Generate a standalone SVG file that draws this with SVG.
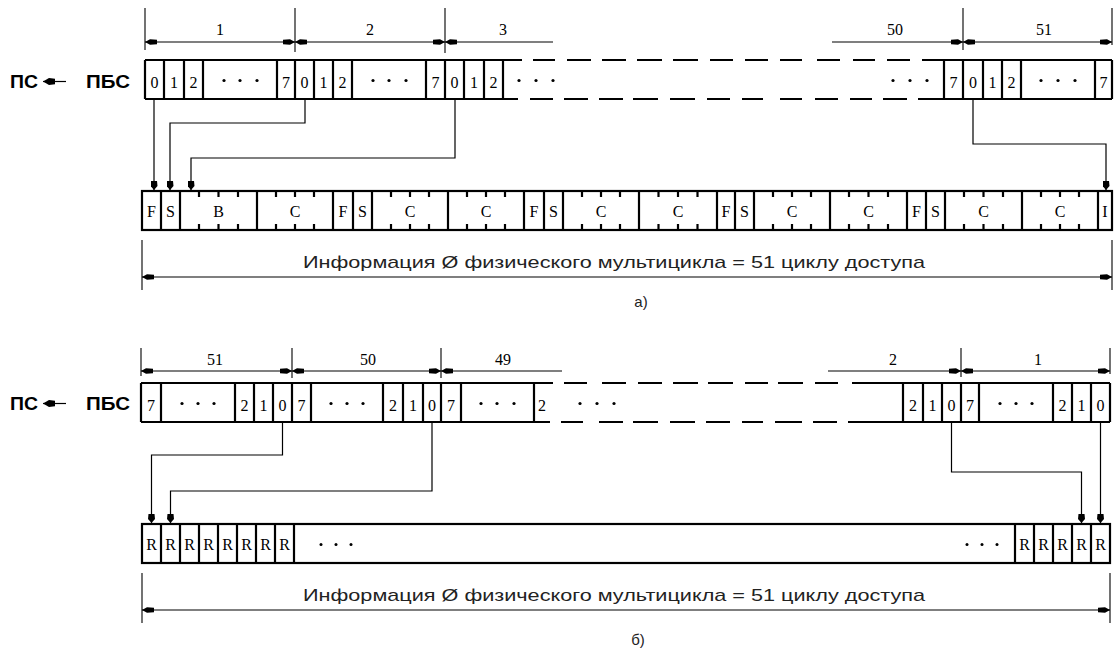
<svg xmlns="http://www.w3.org/2000/svg" width="1115" height="657" viewBox="0 0 1115 657">
<style>
.bg{fill:#fff}
.box{fill:none;stroke:#000;stroke-width:2.2}
.thin{fill:none;stroke:#000;stroke-width:1.2}
.dim{fill:none;stroke:#000;stroke-width:1.1}
.cell{font-family:"Liberation Serif",serif;font-size:16px;fill:#000;text-anchor:middle}
.lbl{font-family:"Liberation Serif",serif;font-size:16px;fill:#000;text-anchor:middle}
.ps{font-family:"Liberation Sans",Arial,sans-serif;font-size:19px;font-weight:bold;fill:#000}
.cap{font-family:"Liberation Sans",Arial,sans-serif;font-size:17px;fill:#222}
.sub{font-family:"Liberation Sans",Arial,sans-serif;font-size:15px;fill:#222;text-anchor:middle}
.dot{fill:#000}
</style>
<defs>
<marker id="da" viewBox="0 0 12 6" refX="12" refY="3" markerWidth="12" markerHeight="6" markerUnits="userSpaceOnUse" orient="auto-start-reverse">
<path d="M12 3 L7 0.3 L0 0.8 L0 5.2 L7 5.7 Z" fill="#000"/>
</marker>
<marker id="pa" viewBox="0 0 12 8" refX="12" refY="4" markerWidth="12" markerHeight="8" markerUnits="userSpaceOnUse" orient="auto">
<path d="M12 4 L6 0.5 L0 1.2 L0 6.8 L6 7.5 Z" fill="#000"/>
</marker>
<marker id="ca" viewBox="0 0 9 7" refX="9" refY="3.5" markerWidth="9" markerHeight="7" markerUnits="userSpaceOnUse" orient="auto">
<path d="M9 3.5 L5 0 L0 0.5 L0 6.5 L5 7 Z" fill="#000"/>
</marker>
</defs>
<rect class="bg" x="0" y="0" width="1115" height="657"/>

<!-- ===== Section a ===== -->
<g id="label-a">
<text class="ps" x="10" y="88" textLength="28" lengthAdjust="spacingAndGlyphs">ПС</text>
<line class="thin" x1="66" y1="81.5" x2="43" y2="81.5" stroke-width="1.6" marker-end="url(#pa)"/>
<text class="ps" x="86" y="88" textLength="44" lengthAdjust="spacingAndGlyphs">ПБС</text>
</g>

<g id="dims-a">
<path class="dim" d="M145 8V50 M295 8V52 M445 8V53 M963 8V50 M1112 8V45"/>
<line class="dim" x1="145" y1="42" x2="295" y2="42" marker-start="url(#da)" marker-end="url(#da)"/>
<line class="dim" x1="295" y1="42" x2="445" y2="42" marker-start="url(#da)" marker-end="url(#da)"/>
<line class="dim" x1="445" y1="42" x2="553" y2="42" marker-start="url(#da)"/>
<line class="dim" x1="832" y1="42" x2="963" y2="42" marker-end="url(#da)"/>
<line class="dim" x1="963" y1="42" x2="1112" y2="42" marker-start="url(#da)" marker-end="url(#da)"/>
<text class="lbl" x="220" y="35">1</text>
<text class="lbl" x="370" y="35">2</text>
<text class="lbl" x="503" y="35">3</text>
<text class="lbl" x="895" y="35">50</text>
<text class="lbl" x="1044" y="35">51</text>
</g>

<g id="bytes-a">
<path class="box" d="M145 60H522 M533 60H555 M567 60H591 M602 60H626 M637 60H662 M673 60H698 M710 60H733 M745 60H768 M780 60H802 M817 60H840 M853 60H875 M887 60H910 M922 60H1112"/>
<path class="box" d="M145 99H518 M530 99H553 M564 99H588 M599 99H623 M633 99H658 M670 99H695 M707 99H730 M742 99H763 M780 99H802 M815 99H838 M850 99H872 M883 99H907 M918 99H1112"/>
<path class="box" d="M145 60V99 M164 60V99 M184 60V99 M203 60V99 M277 60V99 M295 60V99 M314 60V99 M333 60V99 M352 60V99 M426 60V99 M445 60V99 M464 60V99 M484 60V99 M503 60V99 M944 60V99 M963 60V99 M983 60V99 M1002 60V99 M1021 60V99 M1095 60V99 M1112 60V99"/>
<text class="cell" x="154.5" y="88">0</text>
<text class="cell" x="174" y="88">1</text>
<text class="cell" x="193.5" y="88">2</text>
<text class="cell" x="286" y="88">7</text>
<text class="cell" x="304.5" y="88">0</text>
<text class="cell" x="323.5" y="88">1</text>
<text class="cell" x="342.5" y="88">2</text>
<text class="cell" x="435.5" y="88">7</text>
<text class="cell" x="454.5" y="88">0</text>
<text class="cell" x="474" y="88">1</text>
<text class="cell" x="493.5" y="88">2</text>
<text class="cell" x="953.5" y="88">7</text>
<text class="cell" x="973" y="88">0</text>
<text class="cell" x="992.5" y="88">1</text>
<text class="cell" x="1011.5" y="88">2</text>
<text class="cell" x="1103.5" y="88">7</text>
<g class="dot">
<circle cx="224" cy="80.5" r="1.6"/><circle cx="240" cy="80.5" r="1.6"/><circle cx="257" cy="80.5" r="1.6"/>
<circle cx="373" cy="80.5" r="1.6"/><circle cx="389" cy="80.5" r="1.6"/><circle cx="406" cy="80.5" r="1.6"/>
<circle cx="519" cy="80.5" r="1.6"/><circle cx="536" cy="80.5" r="1.6"/><circle cx="553" cy="80.5" r="1.6"/>
<circle cx="893" cy="80.5" r="1.6"/><circle cx="910" cy="80.5" r="1.6"/><circle cx="927" cy="80.5" r="1.6"/>
<circle cx="1041" cy="80.5" r="1.6"/><circle cx="1058" cy="80.5" r="1.6"/><circle cx="1075" cy="80.5" r="1.6"/>
</g>
</g>

<g id="frame-a">
<rect class="box" x="142" y="191" width="970" height="39"/>
<path class="box" d="M161 191V230 M180 191V230 M257 191V230 M333 191V230 M353 191V230 M372 191V230 M448 191V230 M524 191V230 M544 191V230 M563 191V230 M639 191V230 M717 191V230 M735 191V230 M754 191V230 M830 191V230 M907 191V230 M926 191V230 M945 191V230 M1022 191V230 M1098 191V230"/>
<path class="box" stroke-width="2" d="M199 191v6M218.5 191v6M238 191v6M276 191v6M295 191v6M314 191v6M391 191v6M410 191v6M429 191v6M467 191v6M486 191v6M505 191v6M582 191v6M601 191v6M620 191v6M658.5 191v6M678 191v6M697.5 191v6M773 191v6M792 191v6M811 191v6M849 191v6M868.5 191v6M888 191v6M964 191v6M983.5 191v6M1003 191v6M1041 191v6M1060 191v6M1079 191v6
M199 230v-6M218.5 230v-6M238 230v-6M276 230v-6M295 230v-6M314 230v-6M391 230v-6M410 230v-6M429 230v-6M467 230v-6M486 230v-6M505 230v-6M582 230v-6M601 230v-6M620 230v-6M658.5 230v-6M678 230v-6M697.5 230v-6M773 230v-6M792 230v-6M811 230v-6M849 230v-6M868.5 230v-6M888 230v-6M964 230v-6M983.5 230v-6M1003 230v-6M1041 230v-6M1060 230v-6M1079 230v-6"/>
<text class="cell" x="151.5" y="217">F</text>
<text class="cell" x="170.5" y="217">S</text>
<text class="cell" x="218.5" y="217">B</text>
<text class="cell" x="295" y="217">C</text>
<text class="cell" x="343" y="217">F</text>
<text class="cell" x="362.5" y="217">S</text>
<text class="cell" x="410" y="217">C</text>
<text class="cell" x="486" y="217">C</text>
<text class="cell" x="534" y="217">F</text>
<text class="cell" x="553.5" y="217">S</text>
<text class="cell" x="601" y="217">C</text>
<text class="cell" x="678" y="217">C</text>
<text class="cell" x="726" y="217">F</text>
<text class="cell" x="744.5" y="217">S</text>
<text class="cell" x="792" y="217">C</text>
<text class="cell" x="868.5" y="217">C</text>
<text class="cell" x="916.5" y="217">F</text>
<text class="cell" x="935.5" y="217">S</text>
<text class="cell" x="983.5" y="217">C</text>
<text class="cell" x="1060" y="217">C</text>
<text class="cell" x="1105" y="217">I</text>
</g>

<g id="total-a">
<path class="dim" d="M142 240V290 M1112 240V290"/>
<line class="dim" x1="142" y1="277" x2="1112" y2="277" marker-start="url(#da)" marker-end="url(#da)"/>
<text class="cap" x="303" y="268" textLength="622" lengthAdjust="spacingAndGlyphs">Информация Ø физического мультицикла = 51 циклу доступа</text>
<text class="sub" x="641" y="307">а)</text>
</g>

<!-- ===== Section b ===== -->
<g id="label-b">
<text class="ps" x="10" y="410" textLength="28" lengthAdjust="spacingAndGlyphs">ПС</text>
<line class="thin" x1="66" y1="403.5" x2="43" y2="403.5" stroke-width="1.6" marker-end="url(#pa)"/>
<text class="ps" x="86" y="410" textLength="44" lengthAdjust="spacingAndGlyphs">ПБС</text>
</g>

<g id="dims-b">
<path class="dim" d="M141 348V376 M292 348V378 M441 348V378 M961 348V377 M1110 348V374"/>
<line class="dim" x1="141" y1="371" x2="292" y2="371" marker-start="url(#da)" marker-end="url(#da)"/>
<line class="dim" x1="292" y1="371" x2="441" y2="371" marker-start="url(#da)" marker-end="url(#da)"/>
<line class="dim" x1="441" y1="371" x2="562" y2="371" marker-start="url(#da)"/>
<line class="dim" x1="828" y1="371" x2="961" y2="371" marker-end="url(#da)"/>
<line class="dim" x1="961" y1="371" x2="1110" y2="371" marker-start="url(#da)" marker-end="url(#da)"/>
<text class="lbl" x="215" y="365">51</text>
<text class="lbl" x="368" y="365">50</text>
<text class="lbl" x="503" y="365">49</text>
<text class="lbl" x="893" y="365">2</text>
<text class="lbl" x="1038" y="365">1</text>
</g>

<g id="bytes-b">
<path class="box" d="M141 383H553 M564 383H587 M602 383H626 M638 383H662 M673 383H698 M708 383H733 M745 383H768 M778 383H803 M815 383H838 M852 383H1110"/>
<path class="box" d="M141 422H550 M561 422H583 M599 422H623 M633 422H658 M670 422H695 M706 422H730 M742 422H763 M775 422H802 M813 422H837 M848 422H1110"/>
<path class="box" d="M141 383V422 M161 383V422 M235 383V422 M254 383V422 M273 383V422 M292 383V422 M311 383V422 M383 383V422 M403 383V422 M423 383V422 M441 383V422 M461 383V422 M534 383V422 M903 383V422 M923 383V422 M942 383V422 M961 383V422 M979 383V422 M1053 383V422 M1072 383V422 M1091 383V422 M1110 383V422"/>
<text class="cell" x="151" y="411">7</text>
<text class="cell" x="244.5" y="411">2</text>
<text class="cell" x="263.5" y="411">1</text>
<text class="cell" x="282.5" y="411">0</text>
<text class="cell" x="301.5" y="411">7</text>
<text class="cell" x="393" y="411">2</text>
<text class="cell" x="413" y="411">1</text>
<text class="cell" x="432" y="411">0</text>
<text class="cell" x="451" y="411">7</text>
<text class="cell" x="542" y="411">2</text>
<text class="cell" x="913" y="411">2</text>
<text class="cell" x="932.5" y="411">1</text>
<text class="cell" x="951.5" y="411">0</text>
<text class="cell" x="970" y="411">7</text>
<text class="cell" x="1062.5" y="411">2</text>
<text class="cell" x="1081.5" y="411">1</text>
<text class="cell" x="1100.5" y="411">0</text>
<g class="dot">
<circle cx="182" cy="403.5" r="1.6"/><circle cx="198" cy="403.5" r="1.6"/><circle cx="214" cy="403.5" r="1.6"/>
<circle cx="331" cy="403.5" r="1.6"/><circle cx="347" cy="403.5" r="1.6"/><circle cx="363" cy="403.5" r="1.6"/>
<circle cx="481" cy="403.5" r="1.6"/><circle cx="497" cy="403.5" r="1.6"/><circle cx="514" cy="403.5" r="1.6"/>
<circle cx="580" cy="403.5" r="1.6"/><circle cx="597" cy="403.5" r="1.6"/><circle cx="614" cy="403.5" r="1.6"/>
<circle cx="1000" cy="403.5" r="1.6"/><circle cx="1016" cy="403.5" r="1.6"/><circle cx="1032" cy="403.5" r="1.6"/>
</g>
</g>

<g id="frame-b">
<rect class="box" x="142" y="524" width="968" height="39"/>
<path class="box" d="M161 524V563 M180 524V563 M199 524V563 M218 524V563 M237 524V563 M256 524V563 M275 524V563 M294 524V563 M1015 524V563 M1034 524V563 M1053 524V563 M1072 524V563 M1091 524V563"/>
<text class="cell" x="151.5" y="550">R</text>
<text class="cell" x="170.5" y="550">R</text>
<text class="cell" x="189.5" y="550">R</text>
<text class="cell" x="208.5" y="550">R</text>
<text class="cell" x="227.5" y="550">R</text>
<text class="cell" x="246.5" y="550">R</text>
<text class="cell" x="265.5" y="550">R</text>
<text class="cell" x="284.5" y="550">R</text>
<text class="cell" x="1024.5" y="550">R</text>
<text class="cell" x="1043.5" y="550">R</text>
<text class="cell" x="1062.5" y="550">R</text>
<text class="cell" x="1081.5" y="550">R</text>
<text class="cell" x="1100.5" y="550">R</text>
<g class="dot">
<circle cx="321" cy="544.5" r="1.5"/><circle cx="336" cy="544.5" r="1.5"/><circle cx="351" cy="544.5" r="1.5"/>
<circle cx="967" cy="544.5" r="1.5"/><circle cx="982" cy="544.5" r="1.5"/><circle cx="997" cy="544.5" r="1.5"/>
</g>
</g>

<g id="total-b">
<path class="dim" d="M142 573V623 M1110 573V623"/>
<line class="dim" x1="142" y1="610" x2="1110" y2="610" marker-start="url(#da)" marker-end="url(#da)"/>
<text class="cap" x="303" y="601" textLength="622" lengthAdjust="spacingAndGlyphs">Информация Ø физического мультицикла = 51 циклу доступа</text>
<text class="sub" x="638" y="645">б)</text>
</g>

<!-- ===== Connectors ===== -->
<g id="connectors">
<path class="thin" d="M154 99V190" marker-end="url(#ca)"/>
<path class="thin" d="M305 99V123H170V190" marker-end="url(#ca)"/>
<path class="thin" d="M455 99V158H191V190" marker-end="url(#ca)"/>
<path class="thin" d="M973 99V144H1106V190" marker-end="url(#ca)"/>
<path class="thin" d="M282.5 422V455H151.5V523" marker-end="url(#ca)"/>
<path class="thin" d="M432 422V491H170.5V523" marker-end="url(#ca)"/>
<path class="thin" d="M951.5 422V472H1081.5V523" marker-end="url(#ca)"/>
<path class="thin" d="M1100.5 422V523" marker-end="url(#ca)"/>
</g>
</svg>
